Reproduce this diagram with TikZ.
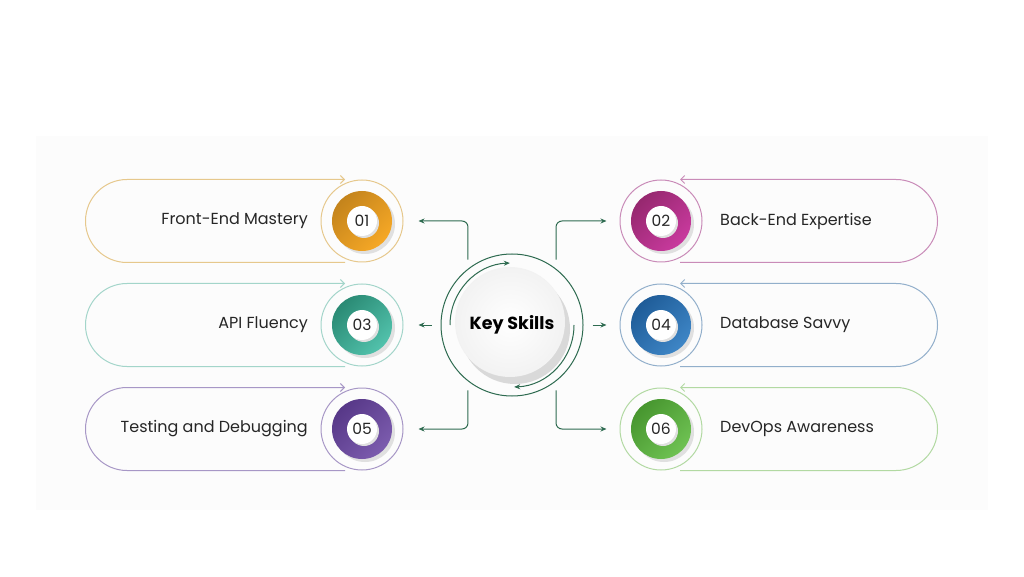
\documentclass[tikz,border=0pt]{standalone}
\usepackage{fontspec}
\setmainfont{Poppins}
\usetikzlibrary{arrows.meta}
\definecolor{linkc}{HTML}{2E6B50}
\definecolor{panel}{HTML}{FCFCFC}
\definecolor{orngD}{HTML}{C4841C}
\definecolor{orngL}{HTML}{F6A826}
\definecolor{orngP}{HTML}{E6C88C}
\definecolor{pinkD}{HTML}{96286F}
\definecolor{pinkL}{HTML}{C93A9E}
\definecolor{pinkP}{HTML}{C98BB8}
\definecolor{teelD}{HTML}{2A8A74}
\definecolor{teelL}{HTML}{52C2AC}
\definecolor{teelP}{HTML}{A3D5CA}
\definecolor{bluuD}{HTML}{1F5C98}
\definecolor{bluuL}{HTML}{3E86C6}
\definecolor{bluuP}{HTML}{92AFCB}
\definecolor{purpD}{HTML}{573888}
\definecolor{purpL}{HTML}{7C5CAE}
\definecolor{purpP}{HTML}{A797C6}
\definecolor{grenD}{HTML}{47962F}
\definecolor{grenL}{HTML}{6FC253}
\definecolor{grenP}{HTML}{B2D9A2}

\begin{document}
\begin{tikzpicture}[x=1pt,y=1pt,
  link/.style={draw=linkc, line width=1pt, rounded corners=6pt, -{Stealth[length=6pt,width=5pt]}},
  ring/.style={circle, draw=#1, line width=1pt, minimum size=82pt, inner sep=0pt},
  numb/.style={circle, fill=white, minimum size=30pt, inner sep=0pt, font=\fontsize{15.5}{16}\selectfont, text=black!85},
  lbl/.style={font=\fontsize{16}{18}\selectfont, text=black!85, inner sep=0pt},
  pill/.style={draw=#1, line width=1pt, -{Straight Barb[length=4pt,width=8pt]}}]

\useasboundingbox (0,0) rectangle (1024,576);
\fill[panel] (36,66) rectangle (988,440);

% left column
\foreach \i/\y/\lbl/\col in {01/355/Front-End Mastery/orng, 03/251/API Fluency/teel, 05/147/Testing and Debugging/purp}{
  \draw[pill=\col P] (345,\y-41.5) -- (127,\y-41.5) arc[start angle=270,end angle=90,radius=41.5] -- (345,\y+41.5);
  \node[ring=\col P] (n\i) at (362,\y) {};
  \fill[black!12] (365,\y-3) circle[radius=30];
  \shade[top color=\col D, bottom color=\col L, shading angle=45] (362,\y) circle[radius=30];
  \fill[black!12] (364,\y-2) circle[radius=15];
  \node[numb] (d\i) at (362,\y) {\i};
  \node[lbl, anchor=east] (t\i) at (308,\y) {\lbl};
}

% right column
\foreach \i/\y/\lbl/\col in {02/355/Back-End Expertise/pink, 04/251/Database Savvy/bluu, 06/147/DevOps Awareness/gren}{
  \draw[pill=\col P] (680,\y-41.5) -- (896,\y-41.5) arc[start angle=-90,end angle=90,radius=41.5] -- (680,\y+41.5);
  \node[ring=\col P] (n\i) at (661,\y) {};
  \fill[black!12] (664,\y-3) circle[radius=30];
  \shade[top color=\col D, bottom color=\col L, shading angle=45] (661,\y) circle[radius=30];
  \fill[black!12] (663,\y-2) circle[radius=15];
  \node[numb] (d\i) at (661,\y) {\i};
  \node[lbl, anchor=west] (t\i) at (720,\y) {\lbl};
}

% centre
\fill[black!15] (515,247) circle[radius=55];
\shade[inner color=white, outer color=black!5] (510,254) circle[radius=55];
\node[circle, draw=linkc, line width=1pt, minimum size=142pt, inner sep=0pt,
  font=\bfseries\fontsize{17.5}{18}\selectfont] (key) at (512,251) {Key Skills};
\draw[linkc, line width=1pt, -{Stealth[length=6pt,width=5pt]}] (key.center) ++(180:62) arc[start angle=180,end angle=92,radius=62];
\draw[linkc, line width=1pt, -{Stealth[length=6pt,width=5pt]}] (key.center) ++(0:62) arc[start angle=0,end angle=-88,radius=62];

\draw[link, shorten <=9pt, shorten >=15pt] (key.128) |- (n01);
\draw[link, shorten <=9pt, shorten >=15pt] (key.west) -- (n03);
\draw[link, shorten <=9pt, shorten >=15pt] (key.232) |- (n05);
\draw[link, shorten <=9pt, shorten >=13pt] (key.52) |- (n02);
\draw[link, shorten <=9pt, shorten >=13pt] (key.east) -- (n04);
\draw[link, shorten <=9pt, shorten >=13pt] (key.308) |- (n06);
\end{tikzpicture}
\end{document}
